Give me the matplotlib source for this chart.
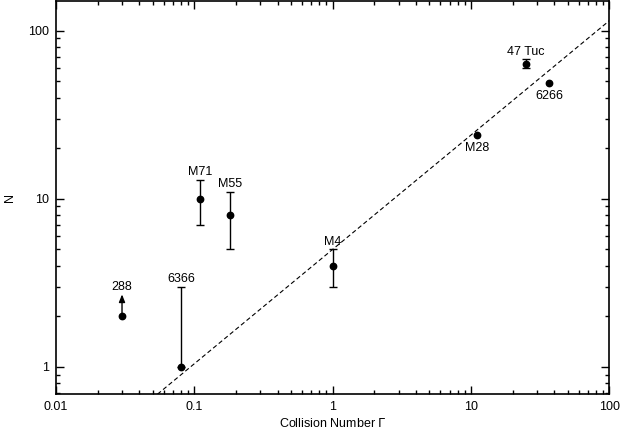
import numpy as np
import matplotlib
matplotlib.use("Agg")
import matplotlib.pyplot as plt
from matplotlib.ticker import LogLocator, FixedLocator, NullFormatter

plt.rcParams['font.family'] = ['Liberation Sans', 'DejaVu Sans']
plt.rcParams['font.size'] = 9

# cluster data
names = ["288", "6366", "M71", "M55", "M4", "M28", "47 Tuc", "6266"]
gamma = [0.03, 0.08, 0.11, 0.18, 1.0, 11.1, 24.8, 36.7]
n_obs = [2.0, 1.0, 10.0, 8.0, 4.0, 23.8, 63.5, 49.0]
err_lo = [0.0, 0.0, 3.0, 3.0, 1.0, 0.0, 3.8, 0.0]
err_hi = [0.0, 2.0, 3.0, 3.0, 1.0, 0.0, 4.2, 0.0]
label_below = [False, False, False, False, False, True, False, True]
limit_tip = 2.7  # arrow tip for the 288 lower limit

# power-law fit N = norm * Gamma^slope
fit_norm = 5.0
fit_slope = 0.68

fig = plt.figure(figsize=(6.21, 4.30), dpi=100)
ax = fig.add_axes([0.0902, 0.0837, 0.8910, 0.9140])

ax.set_xscale("log")
ax.set_yscale("log")
ax.set_xlim(0.01, 100)
ax.set_ylim(0.69, 150)

# fit line
xf = np.logspace(-2, 2, 200)
ax.plot(xf, fit_norm * xf ** fit_slope, ls=(0, (4, 2.5)), color="black", lw=0.8)

# error bars
for g, n, lo, hi in zip(gamma, n_obs, err_lo, err_hi):
    if lo > 0 or hi > 0:
        ax.errorbar([g], [n], yerr=[[lo], [hi]], fmt="none", ecolor="black",
                    elinewidth=1.0, capsize=3, capthick=1.0)

ax.plot(gamma, n_obs, "o", color="black", ms=4.6)

# lower limit arrow for 288
ax.annotate("", xy=(gamma[0], limit_tip), xytext=(gamma[0], n_obs[0]),
            arrowprops=dict(arrowstyle="-|>,head_length=0.5,head_width=0.2",
                            color="black", lw=1.0, shrinkA=0, shrinkB=0))

# labels
for i, (nm, g, n) in enumerate(zip(names, gamma, n_obs)):
    if label_below[i]:
        ax.annotate(nm, (g, n), xytext=(0, -5), textcoords="offset points",
                    ha="center", va="top")
    else:
        top = n + err_hi[i]
        if i == 0:
            top = limit_tip
        ax.annotate(nm, (g, top), xytext=(0, 1), textcoords="offset points",
                    ha="center", va="bottom")

ax.xaxis.set_major_locator(FixedLocator([0.01, 0.1, 1, 10, 100]))
ax.set_xticklabels(["0.01", "0.1", "1", "10", "100"])
ax.yaxis.set_major_locator(FixedLocator([1, 10, 100]))
ax.set_yticklabels(["1", "10", "100"])
ax.xaxis.set_minor_locator(LogLocator(base=10, subs=np.arange(2, 10)))
ax.yaxis.set_minor_locator(LogLocator(base=10, subs=np.arange(2, 10)))
ax.xaxis.set_minor_formatter(NullFormatter())
ax.yaxis.set_minor_formatter(NullFormatter())

ax.tick_params(which="both", direction="in", top=True, right=True, width=1.0)
ax.tick_params(which="major", length=6, pad=5)
ax.tick_params(which="minor", length=3)
for s in ax.spines.values():
    s.set_linewidth(1.2)

ax.set_xlabel("Collision Number $\\Gamma$", labelpad=3)
ax.set_ylabel("N", labelpad=9)

fig.savefig("out.png", dpi=100)
